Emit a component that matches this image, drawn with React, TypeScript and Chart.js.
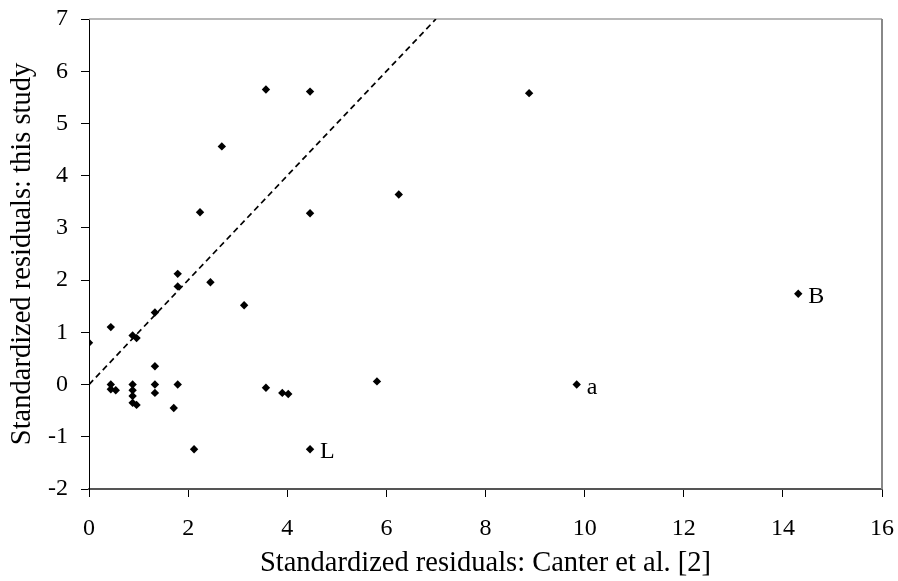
import React, { useEffect, useRef } from "react";
import { Chart, registerables } from "chart.js";

Chart.register(...registerables);

const xValues = [
  3.57, 4.46, 2.68, 2.24, 4.46, 6.25, 1.79, 1.79, 2.45, 8.88, 14.31, 9.84,
  3.13, 0.44, 1.33, 0.88, 0.96, 0.0, 1.33, 0.44, 0.44, 0.54, 0.88, 0.88,
  0.88, 0.88, 0.96, 1.33, 1.33, 1.79, 1.71, 2.12, 3.57, 3.9, 4.02, 5.81, 4.46,
];
const yValues = [
  5.65, 5.61, 4.56, 3.3, 3.28, 3.64, 2.12, 1.88, 1.96, 5.58, 1.74, 0.0,
  1.52, 1.1, 1.38, 0.94, 0.89, 0.8, 0.35, 0.0, -0.09, -0.11, 0.0, -0.11,
  -0.22, -0.35, -0.39, 0.0, -0.16, 0.0, -0.45, -1.24, -0.06, -0.16, -0.18, 0.06, -1.24,
];
const pointTags = [
  "", "", "", "", "", "", "", "", "", "", "B", "a",
  "", "", "", "", "", "", "", "", "", "", "", "",
  "", "", "", "", "", "", "", "", "", "", "", "", "L",
];
const lineX = [0, 7];
const lineY = [0, 7];

const xTitle = "Standardized residuals: Canter et al. [2]";
const yTitle = "Standardized residuals: this study";
const FONT = "'Liberation Serif', 'Times New Roman', serif";

export default function App() {
  const ref = useRef<HTMLCanvasElement | null>(null);
  useEffect(() => {
    if (!ref.current) return;
    const framePlugin = {
      id: "frame",
      beforeDatasetsDraw(chart: any) {
        const { ctx, chartArea } = chart;
        ctx.save();
        ctx.lineWidth = 1.5;
        ctx.strokeStyle = "#a0a0a0";
        ctx.beginPath();
        ctx.moveTo(chartArea.left, chartArea.top);
        ctx.lineTo(chartArea.right, chartArea.top);
        ctx.stroke();
        ctx.strokeStyle = "#888888";
        ctx.lineWidth = 2;
        ctx.beginPath();
        ctx.moveTo(chartArea.right, chartArea.top);
        ctx.lineTo(chartArea.right, chartArea.bottom);
        ctx.stroke();
        ctx.restore();
      },
    };
    const tagPlugin = {
      id: "tags",
      afterDatasetsDraw(chart: any) {
        const { ctx } = chart;
        const meta = chart.getDatasetMeta(1);
        ctx.save();
        ctx.fillStyle = "#000";
        ctx.font = "24px " + FONT;
        ctx.textAlign = "left";
        ctx.textBaseline = "alphabetic";
        pointTags.forEach((t, i) => {
          if (!t) return;
          const el = meta.data[i];
          if (!el) return;
          ctx.fillText(t, el.x + 10, el.y + 9);
        });
        ctx.restore();
      },
    };
    const chart = new Chart(ref.current, {
      type: "scatter",
      data: {
        datasets: [
          {
            type: "line",
            data: lineX.map((x, i) => ({ x, y: lineY[i] })),
            borderColor: "#000",
            borderWidth: 1.7,
            borderDash: [6, 4],
            pointRadius: 0,
            fill: false,
          } as any,
          {
            data: xValues.map((x, i) => ({ x, y: yValues[i] })),
            pointStyle: "rectRot",
            pointRadius: 4.2,
            backgroundColor: "#000",
            borderColor: "#000",
            borderWidth: 0,
          },
        ],
      },
      options: {
        responsive: false,
        animation: false,
        layout: { padding: { top: 19, right: 16, left: 0, bottom: 0 } },
        plugins: {
          legend: { display: false },
          tooltip: { enabled: false },
        },
        scales: {
          x: {
            type: "linear",
            min: 0,
            max: 16,
            afterFit: (s: any) => {
              s.height = 92;
              s.paddingLeft = 0;
              s.paddingRight = 0;
            },
            ticks: {
              stepSize: 2,
              color: "#000",
              font: { family: FONT, size: 24 },
              padding: 17,
              maxRotation: 0,
            },
            grid: {
              drawOnChartArea: false,
              drawTicks: true,
              tickLength: 8,
              tickColor: "#000",
              tickWidth: 1,
            },
            border: { color: "#555", width: 2 },
            title: {
              display: true,
              text: xTitle,
              color: "#000",
              font: { family: FONT, size: 28.5 },
              padding: { top: 0, bottom: 0 },
            },
          },
          y: {
            type: "linear",
            min: -2,
            max: 7,
            afterFit: (s: any) => {
              s.width = 89;
              s.paddingTop = 0;
              s.paddingBottom = 0;
            },
            ticks: {
              stepSize: 1,
              color: "#000",
              font: { family: FONT, size: 24 },
              padding: 13,
            },
            grid: {
              drawOnChartArea: false,
              drawTicks: true,
              tickLength: 8,
              tickColor: "#000",
              tickWidth: 1,
            },
            border: { color: "#000", width: 1 },
            title: {
              display: true,
              text: yTitle,
              color: "#000",
              font: { family: FONT, size: 28.5 },
              padding: { top: 5, bottom: 0 },
            },
          },
        },
      },
      plugins: [framePlugin, tagPlugin],
    });
    return () => chart.destroy();
  }, []);
  return (
    <div style={{ position: "fixed", left: 0, top: 0, width: 898, height: 581, background: "#fff" }}>
      <canvas ref={ref} width={898} height={581} style={{ width: 898, height: 581, display: "block" }} />
    </div>
  );
}
